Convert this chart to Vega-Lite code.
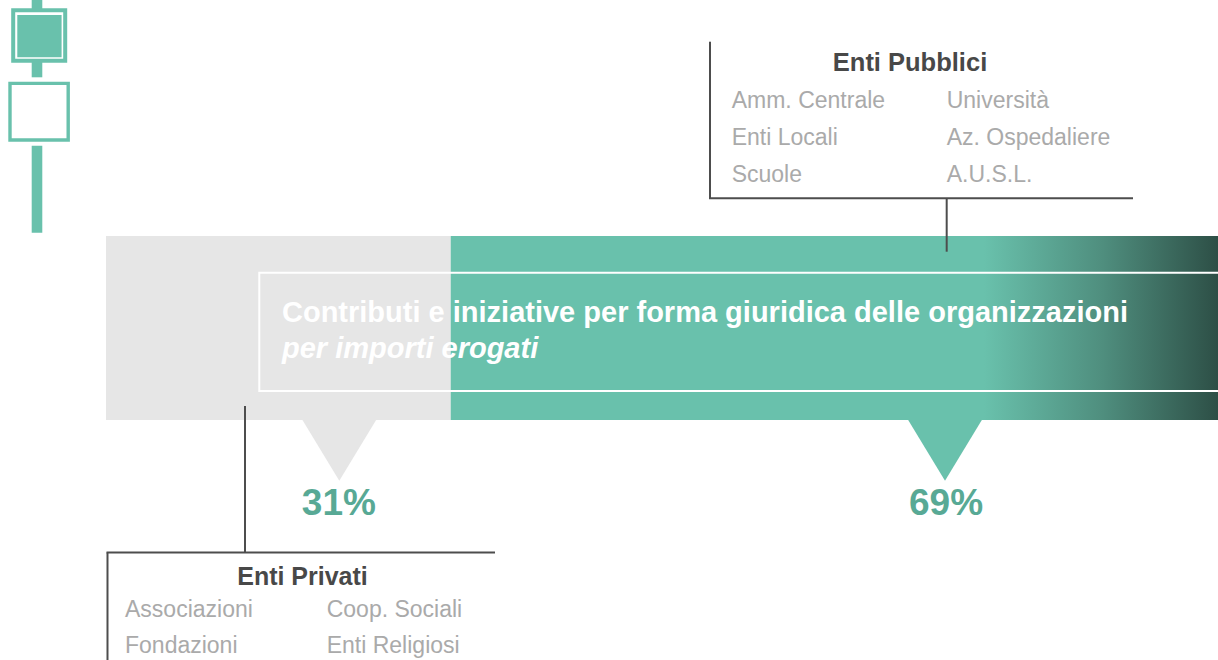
{
  "$schema": "https://vega.github.io/schema/vega-lite/v6.json",
  "width": 1218,
  "height": 660,
  "autosize": {"type": "none"},
  "padding": 0,
  "background": "#ffffff",
  "config": {
    "view": {"stroke": null},
    "axis": {"disable": true},
    "text": {"font": "Liberation Sans"}
  },
  "datasets": {
    "segmenti": [
      {"ente": "Enti Privati", "quota": 0.31},
      {"ente": "Enti Pubblici", "quota": 0.69}
    ],
    "voci": [
      {"gruppo": "Enti Pubblici", "voce": "Amm. Centrale", "colonna": 1, "riga": 1},
      {"gruppo": "Enti Pubblici", "voce": "Enti Locali", "colonna": 1, "riga": 2},
      {"gruppo": "Enti Pubblici", "voce": "Scuole", "colonna": 1, "riga": 3},
      {"gruppo": "Enti Pubblici", "voce": "Università", "colonna": 2, "riga": 1},
      {"gruppo": "Enti Pubblici", "voce": "Az. Ospedaliere", "colonna": 2, "riga": 2},
      {"gruppo": "Enti Pubblici", "voce": "A.U.S.L.", "colonna": 2, "riga": 3},
      {"gruppo": "Enti Privati", "voce": "Associazioni", "colonna": 1, "riga": 1},
      {"gruppo": "Enti Privati", "voce": "Fondazioni", "colonna": 1, "riga": 2},
      {"gruppo": "Enti Privati", "voce": "Coop. Sociali", "colonna": 2, "riga": 1},
      {"gruppo": "Enti Privati", "voce": "Enti Religiosi", "colonna": 2, "riga": 2}
    ],
    "vuoto": [{}]
  },
  "resolve": {"scale": {"y": "independent"}},
  "layer": [
    {
      "layer": [
        {
          "data": {"name": "vuoto"},
          "mark": {"type": "rule", "color": "#69c1ac", "strokeWidth": 10.6},
          "encoding": {
            "x": {"datum": -0.06205, "scale": {"domain": [-0.09532, 1], "nice": false, "zero": false}},
            "y": {"datum": 0, "scale": {"domain": [0, 660], "reverse": true, "nice": false, "zero": false}},
            "y2": {"datum": 9}
          }
        },
        {
          "data": {"name": "vuoto"},
          "mark": {"type": "rule", "color": "#69c1ac", "strokeWidth": 10.6},
          "encoding": {
            "x": {"datum": -0.06205, "scale": {"domain": [-0.09532, 1], "nice": false, "zero": false}},
            "y": {"datum": 62, "scale": {"domain": [0, 660], "reverse": true, "nice": false, "zero": false}},
            "y2": {"datum": 77.3}
          }
        },
        {
          "data": {"name": "vuoto"},
          "mark": {"type": "rule", "color": "#69c1ac", "strokeWidth": 10.6},
          "encoding": {
            "x": {"datum": -0.06205, "scale": {"domain": [-0.09532, 1], "nice": false, "zero": false}},
            "y": {"datum": 145.7, "scale": {"domain": [0, 660], "reverse": true, "nice": false, "zero": false}},
            "y2": {"datum": 232.7}
          }
        },
        {
          "data": {"name": "vuoto"},
          "mark": {"type": "rect", "fill": "#ffffff", "stroke": "#69c1ac", "strokeWidth": 4},
          "encoding": {
            "x": {"datum": -0.083453, "scale": {"domain": [-0.09532, 1], "nice": false, "zero": false}},
            "x2": {"datum": -0.036691},
            "y": {"datum": 10.3, "scale": {"domain": [0, 660], "reverse": true, "nice": false, "zero": false}},
            "y2": {"datum": 60.7}
          }
        },
        {
          "data": {"name": "vuoto"},
          "mark": {"type": "rect", "fill": "#69c1ac"},
          "encoding": {
            "x": {"datum": -0.079766, "scale": {"domain": [-0.09532, 1], "nice": false, "zero": false}},
            "x2": {"datum": -0.039928},
            "y": {"datum": 15, "scale": {"domain": [0, 660], "reverse": true, "nice": false, "zero": false}},
            "y2": {"datum": 57.3}
          }
        },
        {
          "data": {"name": "vuoto"},
          "mark": {"type": "rect", "fill": "#ffffff", "stroke": "#69c1ac", "strokeWidth": 3.4},
          "encoding": {
            "x": {"datum": -0.086331, "scale": {"domain": [-0.09532, 1], "nice": false, "zero": false}},
            "x2": {"datum": -0.033993},
            "y": {"datum": 83.4, "scale": {"domain": [0, 660], "reverse": true, "nice": false, "zero": false}},
            "y2": {"datum": 140}
          }
        },
        {
          "data": {"name": "segmenti"},
          "transform": [
            {"stack": "quota", "groupby": [], "sort": [{"field": "ente", "order": "ascending"}], "as": ["inizio", "fine"]},
            {"filter": "datum.ente === 'Enti Privati'"}
          ],
          "mark": {"type": "rect", "color": "#e6e6e6"},
          "encoding": {
            "x": {"field": "inizio", "type": "quantitative", "scale": {"domain": [-0.09532, 1], "nice": false, "zero": false}},
            "x2": {"field": "fine"},
            "y": {"datum": 236, "scale": {"domain": [0, 660], "reverse": true, "nice": false, "zero": false}},
            "y2": {"datum": 420}
          }
        },
        {
          "data": {"name": "segmenti"},
          "transform": [
            {"stack": "quota", "groupby": [], "sort": [{"field": "ente", "order": "ascending"}], "as": ["inizio", "fine"]},
            {"filter": "datum.ente === 'Enti Pubblici'"}
          ],
          "mark": {
            "type": "rect",
            "fill": {
              "gradient": "linear", "x1": 0, "y1": 0, "x2": 1, "y2": 0,
              "stops": [
                {"offset": 0, "color": "#69c1ac"},
                {"offset": 0.695, "color": "#69c1ac"},
                {"offset": 0.85, "color": "#4f8e7e"},
                {"offset": 1, "color": "#2d4f46"}
              ]
            }
          },
          "encoding": {
            "x": {"field": "inizio", "type": "quantitative", "scale": {"domain": [-0.09532, 1], "nice": false, "zero": false}},
            "x2": {"field": "fine"},
            "y": {"datum": 236, "scale": {"domain": [0, 660], "reverse": true, "nice": false, "zero": false}},
            "y2": {"datum": 420}
          }
        },
        {
          "data": {"name": "vuoto"},
          "mark": {"type": "rect", "filled": false, "stroke": "#ffffff", "strokeWidth": 2, "clip": true},
          "encoding": {
            "x": {"datum": 0.13786, "scale": {"domain": [-0.09532, 1], "nice": false, "zero": false}},
            "x2": {"datum": 1.03},
            "y": {"datum": 272.7, "scale": {"domain": [0, 660], "reverse": true, "nice": false, "zero": false}},
            "y2": {"datum": 391}
          }
        },
        {
          "data": {"name": "vuoto"},
          "mark": {"type": "text", "align": "left", "baseline": "alphabetic", "fontSize": 29, "fontWeight": "bold", "color": "#ffffff"},
          "encoding": {
            "x": {"datum": 0.15827, "scale": {"domain": [-0.09532, 1], "nice": false, "zero": false}},
            "y": {"datum": 322.3, "scale": {"domain": [0, 660], "reverse": true, "nice": false, "zero": false}},
            "text": {"value": "Contributi e iniziative per forma giuridica delle organizzazioni"}
          }
        },
        {
          "data": {"name": "vuoto"},
          "mark": {"type": "text", "align": "left", "baseline": "alphabetic", "fontSize": 29, "fontWeight": "bold", "fontStyle": "italic", "color": "#ffffff"},
          "encoding": {
            "x": {"datum": 0.15827, "scale": {"domain": [-0.09532, 1], "nice": false, "zero": false}},
            "y": {"datum": 357.5, "scale": {"domain": [0, 660], "reverse": true, "nice": false, "zero": false}},
            "text": {"value": "per importi erogati"}
          }
        },
        {
          "data": {"name": "vuoto"},
          "mark": {"type": "point", "shape": "M-1,-0.8237L1,-0.8237L0,0.8237Z", "size": 5430, "filled": true, "color": "#e6e6e6", "opacity": 1, "strokeWidth": 0},
          "encoding": {
            "x": {"datum": 0.2098, "scale": {"domain": [-0.09532, 1], "nice": false, "zero": false}},
            "y": {"datum": 450.35, "scale": {"domain": [0, 660], "reverse": true, "nice": false, "zero": false}}
          }
        },
        {
          "data": {"name": "vuoto"},
          "mark": {"type": "point", "shape": "M-1,-0.8237L1,-0.8237L0,0.8237Z", "size": 5430, "filled": true, "color": "#69c1ac", "opacity": 1, "strokeWidth": 0},
          "encoding": {
            "x": {"datum": 0.7545, "scale": {"domain": [-0.09532, 1], "nice": false, "zero": false}},
            "y": {"datum": 450.35, "scale": {"domain": [0, 660], "reverse": true, "nice": false, "zero": false}}
          }
        },
        {
          "data": {"name": "segmenti"},
          "transform": [{"filter": "datum.ente === 'Enti Privati'"}],
          "mark": {"type": "text", "align": "center", "baseline": "alphabetic", "fontSize": 37, "fontWeight": "bold", "color": "#58a995"},
          "encoding": {
            "x": {"datum": 0.20944, "scale": {"domain": [-0.09532, 1], "nice": false, "zero": false}},
            "y": {"datum": 515, "scale": {"domain": [0, 660], "reverse": true, "nice": false, "zero": false}},
            "text": {"field": "quota", "type": "quantitative", "format": ".0%"}
          }
        },
        {
          "data": {"name": "segmenti"},
          "transform": [{"filter": "datum.ente === 'Enti Pubblici'"}],
          "mark": {"type": "text", "align": "center", "baseline": "alphabetic", "fontSize": 37, "fontWeight": "bold", "color": "#58a995"},
          "encoding": {
            "x": {"datum": 0.7554, "scale": {"domain": [-0.09532, 1], "nice": false, "zero": false}},
            "y": {"datum": 515, "scale": {"domain": [0, 660], "reverse": true, "nice": false, "zero": false}},
            "text": {"field": "quota", "type": "quantitative", "format": ".0%"}
          }
        },
        {
          "data": {"name": "vuoto"},
          "mark": {"type": "rule", "color": "#4d4d4d", "strokeWidth": 2},
          "encoding": {
            "x": {"datum": 0.54317, "scale": {"domain": [-0.09532, 1], "nice": false, "zero": false}},
            "y": {"datum": 41.7, "scale": {"domain": [0, 660], "reverse": true, "nice": false, "zero": false}},
            "y2": {"datum": 198.3}
          }
        },
        {
          "data": {"name": "vuoto"},
          "mark": {"type": "rule", "color": "#4d4d4d", "strokeWidth": 2},
          "encoding": {
            "x": {"datum": 0.54227, "scale": {"domain": [-0.09532, 1], "nice": false, "zero": false}},
            "x2": {"datum": 0.92356},
            "y": {"datum": 198.3, "scale": {"domain": [0, 660], "reverse": true, "nice": false, "zero": false}}
          }
        },
        {
          "data": {"name": "vuoto"},
          "mark": {"type": "rule", "color": "#4d4d4d", "strokeWidth": 2},
          "encoding": {
            "x": {"datum": 0.75602, "scale": {"domain": [-0.09532, 1], "nice": false, "zero": false}},
            "y": {"datum": 198.3, "scale": {"domain": [0, 660], "reverse": true, "nice": false, "zero": false}},
            "y2": {"datum": 251.7}
          }
        },
        {
          "data": {"name": "segmenti"},
          "transform": [{"filter": "datum.ente === 'Enti Pubblici'"}],
          "mark": {"type": "text", "align": "center", "baseline": "alphabetic", "fontSize": 25.5, "fontWeight": "bold", "color": "#484848"},
          "encoding": {
            "x": {"datum": 0.72302, "scale": {"domain": [-0.09532, 1], "nice": false, "zero": false}},
            "y": {"datum": 70.7, "scale": {"domain": [0, 660], "reverse": true, "nice": false, "zero": false}},
            "text": {"field": "ente"}
          }
        },
        {
          "data": {"name": "vuoto"},
          "mark": {"type": "rule", "color": "#4d4d4d", "strokeWidth": 2},
          "encoding": {
            "x": {"datum": 0.00045, "scale": {"domain": [-0.09532, 1], "nice": false, "zero": false}},
            "x2": {"datum": 0.34982},
            "y": {"datum": 552.5, "scale": {"domain": [0, 660], "reverse": true, "nice": false, "zero": false}}
          }
        },
        {
          "data": {"name": "vuoto"},
          "mark": {"type": "rule", "color": "#4d4d4d", "strokeWidth": 2},
          "encoding": {
            "x": {"datum": 0.00135, "scale": {"domain": [-0.09532, 1], "nice": false, "zero": false}},
            "y": {"datum": 552.5, "scale": {"domain": [0, 660], "reverse": true, "nice": false, "zero": false}},
            "y2": {"datum": 662}
          }
        },
        {
          "data": {"name": "vuoto"},
          "mark": {"type": "rule", "color": "#4d4d4d", "strokeWidth": 2},
          "encoding": {
            "x": {"datum": 0.125, "scale": {"domain": [-0.09532, 1], "nice": false, "zero": false}},
            "y": {"datum": 406, "scale": {"domain": [0, 660], "reverse": true, "nice": false, "zero": false}},
            "y2": {"datum": 552.5}
          }
        },
        {
          "data": {"name": "segmenti"},
          "transform": [{"filter": "datum.ente === 'Enti Privati'"}],
          "mark": {"type": "text", "align": "center", "baseline": "alphabetic", "fontSize": 25, "fontWeight": "bold", "color": "#484848"},
          "encoding": {
            "x": {"datum": 0.17671, "scale": {"domain": [-0.09532, 1], "nice": false, "zero": false}},
            "y": {"datum": 585, "scale": {"domain": [0, 660], "reverse": true, "nice": false, "zero": false}},
            "text": {"field": "ente"}
          }
        }
      ]
    },
    {
      "data": {"name": "voci"},
      "transform": [{"filter": "datum.gruppo === 'Enti Pubblici' && datum.colonna === 1"}],
      "mark": {"type": "text", "align": "left", "baseline": "alphabetic", "fontSize": 23, "color": "#aaaaaa"},
      "encoding": {
        "x": {"datum": 0.56268, "scale": {"domain": [-0.09532, 1], "nice": false, "zero": false}},
        "y": {"field": "riga", "type": "quantitative", "scale": {"domain": [-1.9108, 15.927], "reverse": true, "nice": false, "zero": false}},
        "text": {"field": "voce"}
      }
    },
    {
      "data": {"name": "voci"},
      "transform": [{"filter": "datum.gruppo === 'Enti Pubblici' && datum.colonna === 2"}],
      "mark": {"type": "text", "align": "left", "baseline": "alphabetic", "fontSize": 23, "color": "#aaaaaa"},
      "encoding": {
        "x": {"datum": 0.75602, "scale": {"domain": [-0.09532, 1], "nice": false, "zero": false}},
        "y": {"field": "riga", "type": "quantitative", "scale": {"domain": [-1.9108, 15.927], "reverse": true, "nice": false, "zero": false}},
        "text": {"field": "voce"}
      }
    },
    {
      "data": {"name": "voci"},
      "transform": [{"filter": "datum.gruppo === 'Enti Privati' && datum.colonna === 1"}],
      "mark": {"type": "text", "align": "left", "baseline": "alphabetic", "fontSize": 23, "color": "#aaaaaa"},
      "encoding": {
        "x": {"datum": 0.01709, "scale": {"domain": [-0.09532, 1], "nice": false, "zero": false}},
        "y": {"field": "riga", "type": "quantitative", "scale": {"domain": [-16.147, 2.186], "reverse": true, "nice": false, "zero": false}},
        "text": {"field": "voce"}
      }
    },
    {
      "data": {"name": "voci"},
      "transform": [{"filter": "datum.gruppo === 'Enti Privati' && datum.colonna === 2"}],
      "mark": {"type": "text", "align": "left", "baseline": "alphabetic", "fontSize": 23, "color": "#aaaaaa"},
      "encoding": {
        "x": {"datum": 0.19847, "scale": {"domain": [-0.09532, 1], "nice": false, "zero": false}},
        "y": {"field": "riga", "type": "quantitative", "scale": {"domain": [-16.147, 2.186], "reverse": true, "nice": false, "zero": false}},
        "text": {"field": "voce"}
      }
    }
  ]
}
